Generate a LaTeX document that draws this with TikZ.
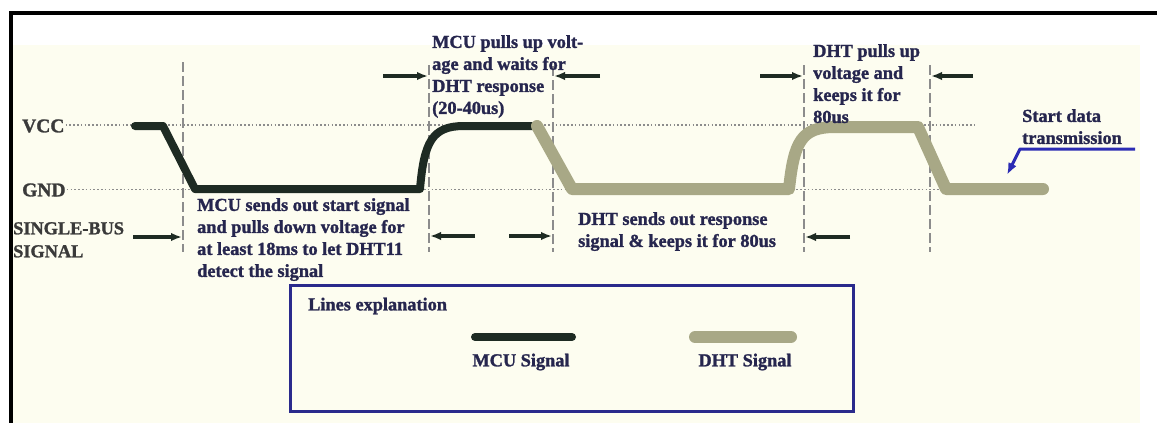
\documentclass[tikz,border=0pt]{standalone}
\usepackage{fontspec}
\setmainfont{Liberation Serif}
\newfontfamily\annfont[FakeBold=1.4]{Liberation Serif Bold}
\usetikzlibrary{arrows.meta}
\definecolor{mcu}{HTML}{1E2B23}
\definecolor{dht}{HTML}{A8A886}
\definecolor{ann}{HTML}{26264E}
\definecolor{lbl}{HTML}{3A3A3A}
\definecolor{cream}{HTML}{FDFDF0}
\definecolor{legblue}{HTML}{2A2A8C}
\definecolor{arrblue}{HTML}{2C2CB4}
\definecolor{guide}{HTML}{8C8C8C}
\tikzset{
  anntext/.style={inner sep=0pt, anchor=north west, align=left, text=ann,
    font=\fontsize{18.3}{22}\selectfont\annfont},
  lvl/.style={inner sep=0pt, anchor=west, text=lbl,
    font=\fontsize{19.5}{22}\selectfont\annfont},
  legtext/.style={inner sep=0pt, text=ann, font=\fontsize{18.3}{22}\selectfont\annfont},
  dotline/.style={guide, line width=1.4pt, dash pattern=on 1.6pt off 2.2pt},
  dashline/.style={guide, line width=1.5pt, dash pattern=on 10pt off 4pt},
  mcusig/.style={mcu, line width=8pt, line cap=round, line join=round},
  dhtsig/.style={dht, line width=12pt, line cap=round, line join=round},
  marker/.style={mcu, line width=3.2pt, -{Latex[length=11pt,width=8.5pt]}},
}
\begin{document}
\begin{tikzpicture}[x=1pt,y=-1pt]
\useasboundingbox (0,0) rectangle (1157,423);
\fill[white] (0,0) rectangle (1157,423);
\fill[cream] (12,45) rectangle (1140,423);
% frame
\draw[black, line width=4.5pt] (11,423) -- (11,13) -- (1157,13);

% level labels
\node[lvl] (vcc) at (22,126) {VCC};
\node[lvl] (gnd) at (22,190) {GND};
\coordinate (vccend) at (977,125);
\coordinate (gndend) at (975,189.5);
\draw[dotline] (vcc.east) ++(1,-1) -- (vccend);
\draw[dotline] (gnd.east) ++(1,-0.5) -- (gndend);

% dashed guides
\foreach \n/\x/\t in {g1/183/62, g2/429/65, g3/553/66, g4/804/65, g5/930/65}{
  \coordinate (\n t) at (\x,\t);
  \coordinate (\n b) at (\x,252);
  \draw[dashline] (\n t) -- (\n b);
}

% signals
\coordinate (m0) at (135,126);
\coordinate (m1) at (163,126);
\coordinate (m2) at (195,189);
\coordinate (m3) at (420,189);
\coordinate (m4) at (464,126);
\coordinate (m5) at (537,126);
\draw[mcusig] (m0) -- (m1) -- (m2) -- (m3) .. controls (424,142) and (432,126) .. (m4) -- (m5);
\coordinate (d1) at (572,189);
\coordinate (d2) at (789,189);
\coordinate (d3) at (835,127);
\coordinate (d4) at (918,127);
\coordinate (d5) at (946,189);
\coordinate (d6) at (1043,189);
\draw[dhtsig] (m5) -- (d1) -- (d2) .. controls (794,142) and (801,127) .. (d3) -- (d4) -- (d5) -- (d6);

% top markers
\coordinate (a1s) at (383,76); \coordinate (a1e) at (428,76);
\coordinate (a2s) at (600,76); \coordinate (a2e) at (554,76);
\coordinate (a3s) at (760,76); \coordinate (a3e) at (803,76);
\coordinate (a4s) at (973,76); \coordinate (a4e) at (931,76);
\draw[marker] (a1s) -- (a1e);
\draw[marker] (a2s) -- (a2e);
\draw[marker] (a3s) -- (a3e);
\draw[marker] (a4s) -- (a4e);
% bottom markers
\coordinate (b1s) at (133,237); \coordinate (b1e) at (182,237);
\coordinate (b2s) at (475,236); \coordinate (b2e) at (430,236);
\coordinate (b3s) at (509,236); \coordinate (b3e) at (552,236);
\coordinate (b4s) at (850,237); \coordinate (b4e) at (805,237);
\draw[marker] (b1s) -- (b1e);
\draw[marker] (b2s) -- (b2e);
\draw[marker] (b3s) -- (b3e);
\draw[marker] (b4s) -- (b4e);

% annotations
\node[anntext] (t1) at (432,35) {MCU pulls up volt-\\age and waits for\\DHT response\\(20-40us)};
\node[anntext] (t2) at (813,44) {DHT pulls up\\voltage and\\keeps it for\\80us};
\node[anntext] (t3) at (1022,109) {Start data\\transmission};
\node[anntext] (t4) at (197,198) {MCU sends out start signal\\and pulls down voltage for\\at least 18ms to let DHT11\\detect the signal};
\node[anntext] (t5) at (578,212) {DHT sends out response\\signal \& keeps it for 80us};
\node[anntext, text=lbl, font=\fontsize{18.3}{23}\selectfont\annfont] (t6) at (13,222) {SINGLE-BUS\\SIGNAL};

% blue pointer
\coordinate (p0) at (1135,149);
\coordinate (p1) at (1020,149);
\coordinate (p2) at (1007,175);
\draw[arrblue, line width=3pt, line join=round, -{Latex[length=12pt,width=9pt]}] (p0) -- (p1) -- (p2);

% legend
\node[draw=legblue, line width=3.2pt, fill=cream, minimum width=563pt, minimum height=126pt, inner sep=0pt, anchor=north west] (leg) at (289,284) {};
\node[legtext, anchor=west] (legt) at (308,306) {Lines explanation};
\coordinate (l1a) at (475,337); \coordinate (l1b) at (572,337);
\coordinate (l2a) at (695,337); \coordinate (l2b) at (791,337);
\draw[mcusig] (l1a) -- (l1b);
\draw[dhtsig] (l2a) -- (l2b);
\node[legtext] (lm) at (521,362) {MCU Signal};
\node[legtext] (ld) at (745,362) {DHT Signal};
\end{tikzpicture}
\end{document}
